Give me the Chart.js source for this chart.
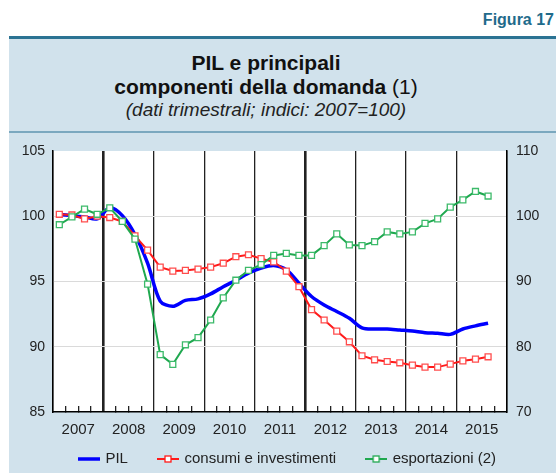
<!DOCTYPE html>
<html>
<head>
<meta charset="utf-8">
<script src="https://cdn.jsdelivr.net/npm/chart.js@4.4.1/dist/chart.umd.min.js"></script>
<style>
  body { margin: 0; background: #fff; font-family: 'Liberation Sans', Arial, sans-serif; }
  #wrap { position: relative; width: 556px; height: 473px; overflow: hidden; }
  #panel { position: absolute; left: 9px; top: 36px; width: 547px; height: 437px; background: #d1e2ec; border-top: 3px solid #2b7393; box-sizing: border-box; }
  #sep { position: absolute; left: 9px; top: 131px; width: 547px; border-top: 2px solid #7ba8bf; }
  #fig { position: absolute; right: 2px; top: 11px; font-weight: bold; font-size: 16px; line-height: 18px; color: #1f6b8b; }
  .t { position: absolute; left: 0; width: 532px; text-align: center; color: #111; }
  #t1 { top: 51px; font-size: 21px; line-height: 24px; font-weight: bold; }
  #t2 { top: 75px; font-size: 21px; line-height: 24px; font-weight: bold; }
  #t2 span { font-weight: normal; }
  #t3 { top: 99px; font-size: 19px; line-height: 22px; font-style: italic; color: #222; }
  canvas { position: absolute; left: 0; top: 0; }
</style>
</head>
<body>
<div id="wrap">
  <div id="panel"></div>
  <div id="sep"></div>
  <div id="fig">Figura 17</div>
  <div class="t" id="t1">PIL e principali</div>
  <div class="t" id="t2">componenti della domanda <span>(1)</span></div>
  <div class="t" id="t3">(dati trimestrali; indici: 2007=100)</div>
  <canvas id="chart" width="556" height="473"></canvas>
</div>
<script>
// anni sull'asse x (un'etichetta al centro di ogni anno)
const years = ['2007', '2008', '2009', '2010', '2011', '2012', '2013', '2014', '2015'];

// dati trimestrali 2007 T1 - 2015 T3
const pil = [100.13, 100.05, 99.95, 99.8, 100.65, 100.05, 98.6, 96.4, 93.5, 93.1,
  93.55, 93.67, 94.05, 94.6, 95.1, 95.64, 96.03, 96.23, 95.9, 94.87,
  93.85, 93.2, 92.7, 92.18, 91.45, 91.36, 91.36, 91.28, 91.2, 91.08,
  91.03, 90.95, 91.36, 91.6, 91.8];

const consumi = [100.15, 100.1, 99.8, 100.0, 99.9, 99.6, 98.5, 97.4, 96.1, 95.8,
  95.85, 95.95, 96.1, 96.4, 96.9, 97.05, 96.75, 96.5, 95.8, 94.6,
  92.85, 92.05, 91.2, 90.38, 89.31, 89.0, 88.87, 88.77, 88.59, 88.44,
  88.44, 88.67, 88.92, 89.05, 89.23];

// scala destra
const esportazioni = [98.7, 99.9, 101.1, 100.3, 101.3, 99.2, 96.5, 89.6, 78.8, 77.3,
  80.3, 81.4, 84.1, 87.5, 90.2, 91.7, 92.6, 94.0, 94.3, 94.0,
  94.0, 95.5, 97.3, 95.6, 95.5, 96.1, 97.6, 97.3, 97.6, 98.9,
  99.6, 101.4, 102.5, 103.8, 103.1];

// ogni valore al centro del suo trimestre
const toPoints = arr => arr.map((v, i) => ({ x: i + 0.5, y: v }));

function legendIcon(color, lineW, marker) {
  const c = document.createElement('canvas');
  c.width = 22; c.height = 10;
  const g = c.getContext('2d');
  g.strokeStyle = color;
  g.lineWidth = lineW;
  g.beginPath(); g.moveTo(0, 5); g.lineTo(22, 5); g.stroke();
  if (marker) {
    g.fillStyle = '#fff';
    g.lineWidth = 1.3;
    g.fillRect(8, 2, 6, 6);
    g.strokeRect(8, 2, 6, 6);
  }
  return c;
}

const icons = [
  legendIcon('#0000ff', 3.5, false),
  legendIcon('#ff1a1a', 2, true),
  legendIcon('#1fa84f', 2, true)
];

// sfondo bianco dell'area del grafico
const plotBg = {
  id: 'plotBg',
  beforeDraw(chart) {
    const { ctx, chartArea: a } = chart;
    ctx.save();
    ctx.fillStyle = '#fff';
    ctx.fillRect(a.left, a.top, a.right - a.left, a.bottom - a.top);
    ctx.restore();
  }
};

const clear = 'rgba(0,0,0,0)';

new Chart(document.getElementById('chart'), {
  type: 'line',
  data: {
    datasets: [{
      label: 'PIL',
      data: toPoints(pil),
      yAxisID: 'y',
      borderColor: '#0000ff',
      borderWidth: 3.5,
      pointRadius: 0,
      tension: 0.3,
      order: 3
    }, {
      label: 'consumi e investimenti',
      data: toPoints(consumi),
      yAxisID: 'y',
      borderColor: '#ff1a1a',
      borderWidth: 2,
      pointStyle: 'rect',
      pointRadius: 4.2,
      pointBackgroundColor: '#fff',
      pointBorderColor: '#ff4d4d',
      pointBorderWidth: 1.3,
      order: 2
    }, {
      label: 'esportazioni (2)',
      data: toPoints(esportazioni),
      yAxisID: 'y2',
      borderColor: '#1fa84f',
      borderWidth: 2,
      pointStyle: 'rect',
      pointRadius: 4.2,
      pointBackgroundColor: '#fff',
      pointBorderColor: '#3cba6a',
      pointBorderWidth: 1.3,
      order: 1
    }]
  },
  options: {
    responsive: false,
    animation: false,
    layout: { padding: { top: 151, left: 20, right: 0, bottom: -3.5 } },
    scales: {
      x: {
        type: 'linear',
        min: 0,
        max: 36,
        ticks: {
          stepSize: 1,
          autoSkip: false,
          maxRotation: 0,
          mirror: true,   // niente ritaglio delle etichette
          padding: -27,
          color: '#222',
          font: { size: 15, family: "'Liberation Sans', Arial, sans-serif" },
          callback: v => (v % 4 === 2 ? years[(v - 2) / 4] : '')
        },
        grid: {
          color: c => (c.tick.value % 4 === 0 ? '#222' : clear),
          lineWidth: c => (c.tick.value === 4 || c.tick.value === 20 ? 2.6 : 1.3),
          tickColor: c => (c.tick.value % 4 === 0 ? clear : '#222'),
          tickLength: -6,
          tickWidth: 1.3
        },
        border: { display: true, color: '#000', width: 1.5 },
        afterFit: s => { s.height = 8.5; }
      },
      y: {
        position: 'left',
        min: 85,
        max: 105,
        ticks: {
          stepSize: 5,
          padding: 8,
          color: '#222',
          font: { size: 14, family: "'Liberation Sans', Arial, sans-serif" }
        },
        grid: {
          color: c => ([90, 95, 100].includes(c.tick.value) ? '#dadada' : clear),
          drawTicks: false
        },
        border: { display: true, color: '#000', width: 1.5 },
        afterFit: s => { s.width = 33; }
      },
      y2: {
        position: 'right',
        min: 70,
        max: 110,
        ticks: {
          stepSize: 10,
          padding: 9,
          color: '#222',
          font: { size: 14, family: "'Liberation Sans', Arial, sans-serif" }
        },
        grid: { drawOnChartArea: false, drawTicks: false },
        border: { display: true, color: '#000', width: 1.5 },
        afterFit: s => { s.width = 49; }
      }
    },
    plugins: {
      tooltip: { enabled: false },
      legend: {
        position: 'bottom',
        labels: {
          usePointStyle: true,
          pointStyleWidth: 18,
          padding: 31,
          color: '#222',
          font: { size: 15, family: "'Liberation Sans', Arial, sans-serif" },
          generateLabels: chart => chart.data.datasets.map((ds, i) => ({
            text: ds.label,
            pointStyle: icons[i],
            datasetIndex: i,
            fontColor: '#222',
            fillStyle: clear,
            strokeStyle: clear,
            lineWidth: 0,
            hidden: false
          }))
        }
      }
    }
  },
  plugins: [plotBg]
});
</script>
</body>
</html>
